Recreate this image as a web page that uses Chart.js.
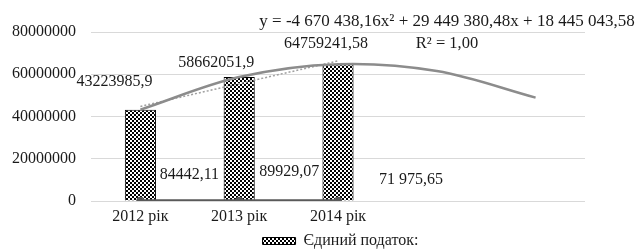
<!DOCTYPE html>
<html>
<head>
<meta charset="utf-8">
<script src="https://cdn.jsdelivr.net/npm/chart.js@4/dist/chart.umd.min.js"></script>
<style>
  html, body { margin: 0; padding: 0; background: #fff; }
  #wrap { width: 635px; height: 251px; }
</style>
</head>
<body>
<div id="wrap"><canvas id="chart"></canvas></div>
<script>
// categories (last two are the forecast periods of the trend line)
const years = ["2012 рік", "2013 рік", "2014 рік", "", ""];

// bar series
const taxValues = [43223985.9, 58662051.9, 64759241.58, null, null];
const taxLabels = ["43223985,9", "58662051,9", "64759241,58"];

// second series (small values, drawn near zero)
const smallValues = [84442.11, 89929.07, 71975.65, null, null];
const smallLabels = ["84442,11", "89929,07", "71 975,65"];

// trend lines
const polyTrend = [43223985.9, 58662051.9, 64759241.58, 61516554.94, 48930991.98];
const linearTrend = [44780798.62, 55548426.46, 66316054.14, null, null];

const equationText = "y = -4 670 438,16x² + 29 449 380,48x + 18 445 043,58";
const r2Text = "R² = 1,00";

const FONT = "'Liberation Serif', 'Times New Roman', serif";
Chart.defaults.font.family = FONT;

// checkered fill for the bars
function checker() {
  const c = document.createElement("canvas");
  c.width = 4;
  c.height = 4;
  const g = c.getContext("2d");
  g.fillStyle = "#fff";
  g.fillRect(0, 0, 4, 4);
  g.fillStyle = "#000";
  g.fillRect(0, 0, 2, 2);
  g.fillRect(2, 2, 2, 2);
  return g.createPattern(c, "repeat");
}
const pattern = checker();

// label offsets in px from each point (Excel placed them by hand)
const taxShift = [[-26, -28], [-23, -14], [-12, -20]];
const smallShift = [[49, -26], [50, -29], [73, -21]];

const labelPlugin = {
  id: "labels",
  afterLayout(chart) {
    // the legend sits a bit right of centre in the original
    chart.legend.left += 48;
    chart.legend.right += 48;
  },
  afterDatasetsDraw(chart) {
    const ctx = chart.ctx;
    ctx.save();
    ctx.font = "16px " + FONT;
    ctx.fillStyle = "#1a1a1a";
    ctx.textAlign = "center";
    ctx.textBaseline = "middle";

    const bars = chart.getDatasetMeta(0).data;
    taxLabels.forEach((t, i) => {
      ctx.fillText(t, bars[i].x + taxShift[i][0], bars[i].y + taxShift[i][1]);
    });
    const pts = chart.getDatasetMeta(1).data;
    smallLabels.forEach((t, i) => {
      ctx.fillText(t, pts[i].x + smallShift[i][0], pts[i].y + smallShift[i][1]);
    });

    ctx.font = "17px " + FONT;
    ctx.fillText(equationText, 447, 22);
    ctx.font = "16.5px " + FONT;
    ctx.fillText(r2Text, 447, 44);
    ctx.restore();
  },
};

new Chart(document.getElementById("chart"), {
  type: "bar",
  data: {
    labels: years,
    datasets: [
      {
        label: "Єдиний податок:",
        data: taxValues,
        backgroundColor: pattern,
        borderColor: "#000",
        borderWidth: 1,
        categoryPercentage: 1,
        barPercentage: 0.315,
        order: 3,
      },
      {
        type: "line",
        label: "small",
        data: smallValues,
        borderColor: "#595959",
        backgroundColor: "#595959",
        borderWidth: 3,
        pointRadius: 4,
        pointBorderWidth: 0,
        order: 1,
      },
      {
        type: "line",
        label: "poly",
        data: polyTrend,
        borderColor: "#8c8c8c",
        borderWidth: 2.5,
        pointRadius: 0,
        tension: 0.35,
        order: 2,
      },
      {
        type: "line",
        label: "linear",
        data: linearTrend,
        borderColor: "#a0a0a0",
        borderWidth: 1.5,
        borderDash: [2, 2],
        pointRadius: 0,
        order: 2,
      },
    ],
  },
  options: {
    responsive: true,
    maintainAspectRatio: false,
    animation: false,
    layout: { padding: { left: 0, right: 50, top: 32, bottom: 0 } },
    scales: {
      x: {
        grid: { display: false, drawTicks: false },
        border: { display: false },
        afterFit: (axis) => { axis.height = 30; },
        ticks: { font: { family: FONT, size: 16 }, color: "#1a1a1a", padding: 6 },
      },
      y: {
        min: 0,
        max: 80000000,
        afterFit: (axis) => { axis.width = 91; },
        grid: { color: "#d9d9d9", drawTicks: false },
        border: { display: false },
        ticks: {
          stepSize: 20000000,
          padding: 15,
          callback: (v) => String(v),
          font: { family: FONT, size: 16 },
          color: "#1a1a1a",
        },
      },
    },
    plugins: {
      legend: {
        position: "bottom",
        maxHeight: 20,
        labels: {
          filter: (item) => item.datasetIndex === 0,
          boxWidth: 33,
          boxHeight: 7,
          padding: 2,
          color: "#1a1a1a",
          font: { family: FONT, size: 16 },
        },
      },
      tooltip: { enabled: false },
    },
  },
  plugins: [labelPlugin],
});
</script>
</body>
</html>
